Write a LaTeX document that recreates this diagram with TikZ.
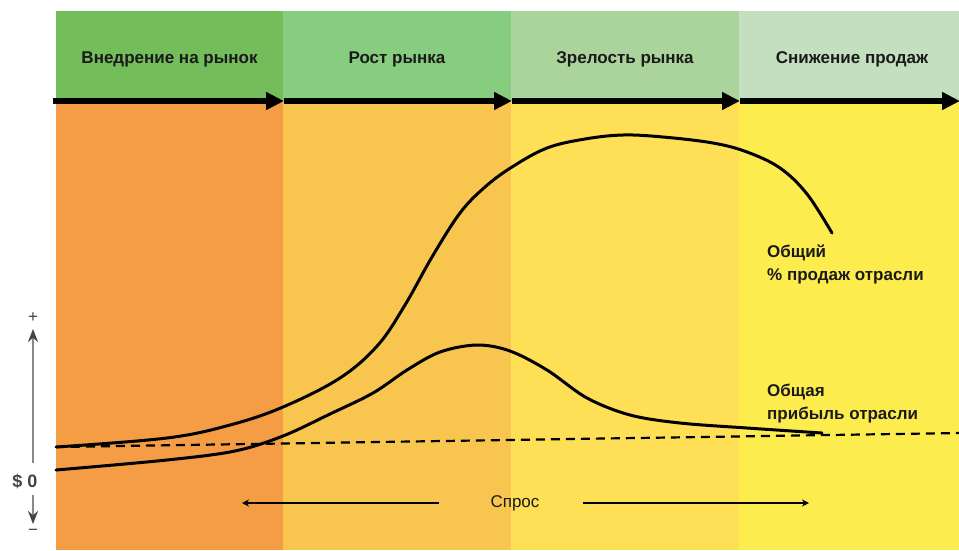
\documentclass[tikz,border=0pt]{standalone}
\usepackage{fontspec}
\setmainfont{Liberation Sans}
\usetikzlibrary{arrows.meta}
\definecolor{hdrA}{HTML}{73BD5A}
\definecolor{hdrB}{HTML}{86CD7F}
\definecolor{hdrC}{HTML}{AAD49B}
\definecolor{hdrD}{HTML}{C4DEC0}
\definecolor{bodA}{HTML}{F49D45}
\definecolor{bodB}{HTML}{F8C64F}
\definecolor{bodC}{HTML}{FEDF55}
\definecolor{bodD}{HTML}{FDEC4E}
\definecolor{txt}{HTML}{1A1A1A}
\definecolor{axisgray}{HTML}{444444}
\definecolor{axisline}{HTML}{888888}
\begin{document}
\begin{tikzpicture}[x=1pt,y=-1pt,
  hdrtext/.style={anchor=base, inner sep=0pt, text=txt, font=\fontsize{17}{20}\selectfont\bfseries},
  lbltext/.style={anchor=base west, inner sep=0pt, text=txt, font=\fontsize{17}{20}\selectfont\bfseries},
  phasearrow/.style={line width=6pt, -{Triangle[length=18pt,width=17pt]}},
  curveline/.style={line width=3pt, line cap=round, line join=round},
  demandarrow/.style={line width=1.8pt, -{Stealth[length=7pt,width=7pt]}},
  axisarrow/.style={line width=2pt, draw=axisline, -{Stealth[length=13pt,width=10pt,color=axisgray]}}
]
\useasboundingbox (0,0) rectangle (959,550);
\fill[white] (0,0) rectangle (959,550);
% headers
\fill[hdrA] (56,11) rectangle (283,101);
\fill[hdrB] (283,11) rectangle (511,101);
\fill[hdrC] (511,11) rectangle (739,101);
\fill[hdrD] (739,11) rectangle (959,101);
% bodies
\fill[bodA] (56,101) rectangle (283,550);
\fill[bodB] (283,101) rectangle (511,550);
\fill[bodC] (511,101) rectangle (739,550);
\fill[bodD] (739,101) rectangle (959,550);
% header texts
\node[hdrtext] (h1) at (169.5,63) {Внедрение на рынок};
\node[hdrtext] (h2) at (397,63) {Рост рынка};
\node[hdrtext] (h3) at (625,63) {Зрелость рынка};
\node[hdrtext] (h4) at (852,63) {Снижение продаж};
% phase arrows
\coordinate (p0) at (53,101);
\coordinate (p1) at (284,101);
\coordinate (p2) at (512,101);
\coordinate (p3) at (740,101);
\coordinate (p4) at (960,101);
\draw[phasearrow] (p0) -- (p1);
\draw[phasearrow] (p1) -- (p2);
\draw[phasearrow] (p2) -- (p3);
\draw[phasearrow] (p3) -- (p4);
% zero (dashed) line
\coordinate (z0) at (56,447);
\coordinate (z1) at (959,433);
\draw[line width=2.2pt, dash pattern=on 9pt off 6pt] (z0) -- (z1);
% sales curve
\draw[curveline] plot[smooth, tension=0.6] coordinates {
  (56,447) (167,438) (230,425) (283,407) (340,378) (378,345) (405,305)
  (432,257) (460,213) (485,187) (512,167) (547,148) (585,139) (623,135)
  (663,137) (713,143) (747,152) (780,168) (807,194) (832,233)};
% profit curve
\draw[curveline] plot[smooth, tension=0.55] coordinates {
  (56,470) (167,460) (235,451) (283,436) (330,414) (373,393)
  (407,370) (440,352) (477,345) (510,351) (547,370) (587,398) (630,415)
  (680,423) (747,428) (822,433)};
% curve labels
\node[lbltext] (s1) at (767,257) {Общий};
\node[lbltext] (s2) at (767,280) {\% продаж отрасли};
\node[lbltext] (r1) at (767,396) {Общая};
\node[lbltext] (r2) at (767,419) {прибыль отрасли};
% demand
\node[anchor=base, inner sep=0pt, text=txt, font=\fontsize{17}{20}\selectfont] (dem) at (515,507) {Спрос};
\coordinate (dl0) at (439,503);
\coordinate (dl1) at (242,503);
\coordinate (dr0) at (583,503);
\coordinate (dr1) at (809,503);
\draw[demandarrow] (dl0) -- (dl1);
\draw[demandarrow] (dr0) -- (dr1);
% value axis
\node[inner sep=0pt, text=axisgray, font=\fontsize{17}{20}\selectfont] (plus) at (33,318) {+};
\node[anchor=base, inner sep=0pt, text=axisgray, font=\fontsize{18}{20}\selectfont\bfseries] (zero) at (25,487) {\$ 0};
\node[inner sep=0pt, text=axisgray, font=\fontsize{17}{20}\selectfont] (minus) at (33,532) {−};
\coordinate (ax0) at (33,463);
\coordinate (ax1) at (33,329);
\coordinate (ax2) at (33,495);
\coordinate (ax3) at (33,524);
\draw[axisarrow] (ax0) -- (ax1);
\draw[axisarrow] (ax2) -- (ax3);
\end{tikzpicture}
\end{document}
